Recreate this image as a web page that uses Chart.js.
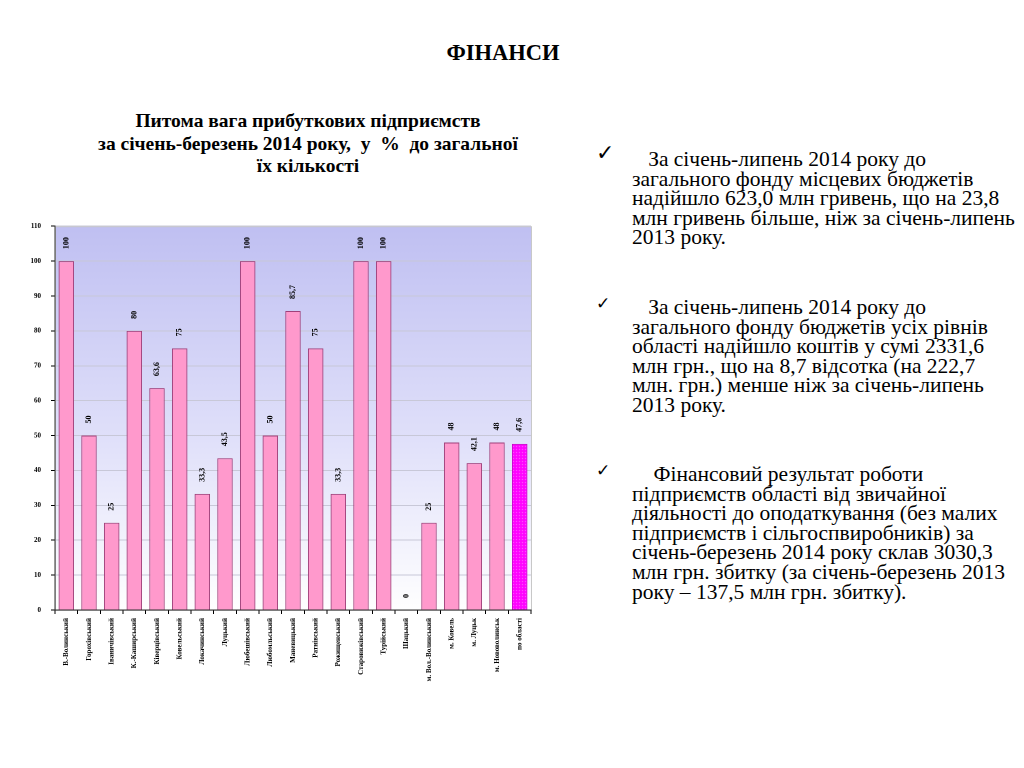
<!DOCTYPE html>
<html>
<head>
<meta charset="utf-8">
<script src="https://cdn.jsdelivr.net/npm/chart.js@4.4.0/dist/chart.umd.min.js"></script>
<style>
  html,body{margin:0;padding:0;background:#fff;width:1024px;height:768px;overflow:hidden;}
  body{color:#000;position:relative;font-family:"Times New Roman", serif;}
  .serif{font-family:"Times New Roman", serif;}
  #head{position:absolute;left:0;width:1006px;top:40px;text-align:center;font-weight:bold;font-size:22.5px;}
  #ctitle{position:absolute;left:40px;width:536px;top:110px;text-align:center;font-weight:bold;font-size:19.5px;line-height:22.5px;}
  #wrap{position:absolute;left:0;top:212px;width:545px;height:483px;}
  .para{position:absolute;left:632px;font-size:21.5px;line-height:19.6px;white-space:nowrap;}
  .chk{position:absolute;left:596px;font-family:'DejaVu Sans',sans-serif;}
</style>
</head>
<body>
<div id="head" class="serif">ФІНАНСИ</div>
<div id="ctitle" class="serif">Питома вага прибуткових підприємств<br>за січень-березень 2014 року,&nbsp; у&nbsp; %&nbsp; до загальної<br>їх кількості</div>
<div id="wrap"><canvas id="c"></canvas></div>

<div class="chk" style="top:140px;font-size:22px;font-weight:bold;">✓</div>
<div class="para serif" style="top:150px;">&nbsp;&nbsp; За січень-липень 2014 року до<br>загального фонду місцевих бюджетів<br>надійшло 623,0 млн гривень, що на 23,8<br>млн гривень більше, ніж за січень-липень<br>2013 року.</div>

<div class="chk" style="top:293px;font-size:17px;">✓</div>
<div class="para serif" style="top:298px;">&nbsp;&nbsp; За січень-липень 2014 року до<br>загального фонду бюджетів усіх рівнів<br>області надійшло коштів у сумі 2331,6<br>млн грн., що на 8,7 відсотка (на 222,7<br>млн. грн.) менше ніж за січень-липень<br>2013 року.</div>

<div class="chk" style="top:460px;font-size:17px;">✓</div>
<div class="para serif" style="top:465px;">&nbsp;&nbsp;&nbsp; Фінансовий результат роботи<br>підприємств області від звичайної<br>діяльності до оподаткування (без малих<br>підприємств і сільгоспвиробників) за<br>січень-березень 2014 року склав 3030,3<br>млн грн. збитку (за січень-березень 2013<br>року – 137,5 млн грн. збитку).</div>

<script>
const categories = [
  "В.-Волинський","Горохівський","Іваничівський","К.-Каширський","Ківерцівський",
  "Ковельський","Локачинський","Луцький","Любешівський","Любомльський",
  "Маневицький","Ратнівський","Рожищенський","Старовижівський","Турійський",
  "Шацький","м. Вол.-Волинський","м. Ковель","м. Луцьк","м. Нововолинськ","по області"
];
const shareValues = [100, 50, 25, 80, 63.6, 75, 33.3, 43.5, 100, 50, 85.7, 75, 33.3, 100, 100, 0, 25, 48, 42.1, 48, 47.6];
const yMin = 0, yMax = 110, yStep = 10;

function makePattern(g0){
  const p = document.createElement('canvas');
  p.width = 3; p.height = 3;
  const g = p.getContext('2d');
  g.fillStyle = '#ff00ff'; g.fillRect(0,0,3,3);
  g.fillStyle = '#ff80ff'; g.fillRect(0,0,1,1);
  return g0.createPattern(p,'repeat');
}
const ctxEl = document.getElementById('c');
const pat = makePattern(ctxEl.getContext('2d'));
const lastIdx = categories.length - 1;
const fills = categories.map((_, i) => i === lastIdx ? pat : '#ff99cc');
const borders = categories.map((_, i) => i === lastIdx ? '#cc00cc' : '#a0407a');

const bgPlugin = {
  id: 'bgPlugin',
  beforeDraw(chart){
    const {ctx, chartArea:a} = chart;
    const g = ctx.createLinearGradient(0, a.top, 0, a.bottom);
    g.addColorStop(0, '#c0c0f2');
    g.addColorStop(0.55, '#e0e0fa');
    g.addColorStop(1, '#ffffff');
    ctx.save();
    ctx.fillStyle = g;
    ctx.fillRect(a.left, a.top, a.right - a.left, a.bottom - a.top);
    ctx.strokeStyle = '#c8c8c8';
    ctx.lineWidth = 1;
    ctx.strokeRect(a.left + 0.5, a.top + 0.5, a.right - a.left, a.bottom - a.top);
    ctx.restore();
  }
};
const labelPlugin = {
  id: 'labelPlugin',
  afterDatasetsDraw(chart){
    const {ctx} = chart;
    const meta = chart.getDatasetMeta(0);
    ctx.save();
    ctx.fillStyle = '#000';
    ctx.font = 'bold 8px "Times New Roman", serif';
    ctx.textAlign = 'left';
    ctx.textBaseline = 'middle';
    meta.data.forEach((el, i) => {
      const txt = String(shareValues[i]).replace('.', ',');
      ctx.save();
      ctx.translate(el.x, el.y - 12);
      ctx.rotate(-Math.PI/2);
      ctx.fillText(txt, 0, 0);
      ctx.restore();
    });
    ctx.restore();
  }
};

new Chart(ctxEl, {
  type: 'bar',
  data: {
    labels: categories,
    datasets: [{
      data: shareValues,
      backgroundColor: fills,
      borderColor: borders,
      borderWidth: 1,
      barPercentage: 0.68,
      categoryPercentage: 1
    }]
  },
  options: {
    responsive: true,
    maintainAspectRatio: false,
    animation: false,
    devicePixelRatio: 2,
    layout: { padding: { top: 5, right: 14, left: 0, bottom: 0 } },
    plugins: { legend: { display: false }, tooltip: { enabled: false } },
    scales: {
      x: {
        afterFit(s){ s.height = 85; },
        grid: { drawOnChartArea: false, drawTicks: true, tickLength: 4, tickColor: '#000', offset: true },
        border: { color: '#303030' },
        ticks: {
          autoSkip: false, maxRotation: 90, minRotation: 90, padding: 4,
          color: '#000', font: { family: '"Times New Roman", serif', size: 7, weight: 'bold' }
        }
      },
      y: {
        min: yMin, max: yMax,
        afterFit(s){ s.width = 55; },
        grid: { color: '#c8c8d8', tickLength: 4, tickColor: '#000' },
        border: { color: '#303030' },
        ticks: {
          stepSize: yStep, padding: 10,
          color: '#000', font: { family: '"Times New Roman", serif', size: 7, weight: 'bold' }
        }
      }
    }
  },
  plugins: [bgPlugin, labelPlugin]
});
</script>
</body>
</html>
